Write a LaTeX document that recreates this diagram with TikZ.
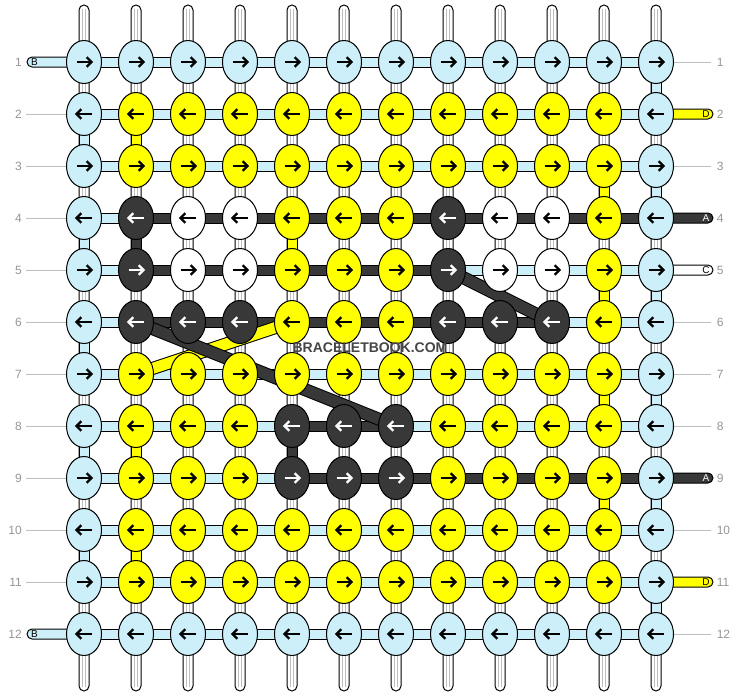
\documentclass[tikz,border=0pt]{standalone}
\usepackage{fontspec}
\setmainfont{Liberation Sans}
\usetikzlibrary{shapes.geometric}
\definecolor{cB}{RGB}{204,239,250}
\definecolor{cY}{RGB}{255,255,0}
\definecolor{cK}{RGB}{56,56,56}
\definecolor{cW}{RGB}{255,255,255}
\definecolor{aB}{RGB}{0,0,0}
\definecolor{aY}{RGB}{0,0,0}
\definecolor{aW}{RGB}{0,0,0}
\definecolor{aK}{RGB}{255,255,255}
\definecolor{lblgray}{RGB}{150,150,150}
\definecolor{linegray}{RGB}{190,190,190}
\definecolor{wmgray}{RGB}{70,70,70}
\begin{document}
\begin{tikzpicture}[x=0.75pt,y=-0.75pt,
  knot/.style={ellipse, draw=black, line width=0.75pt, minimum width=26.25pt, minimum height=32.25pt, inner sep=0pt},
  bar/.style={draw=black, line width=0.75pt},
  band/.style={draw=black, line width=0.75pt, double distance=8.25pt},
  arr/.style={line width=1.7pt, line cap=butt},
  numlbl/.style={font=\fontsize{9}{9}\selectfont, text=lblgray, inner sep=0pt},
  endlbl/.style={font=\fontsize{7.5}{7.5}\selectfont, inner sep=0pt},
  guide/.style={draw=linegray, line width=0.75pt}
]
\useasboundingbox (0,0) rectangle (740,696);
\fill[white] (0,0) rectangle (740,696);

% knot centre coordinates
\foreach \r in {1,...,12}{
  \foreach \c in {1,...,12}{
    \coordinate (p\r-\c) at ({84+52*(\c-1)},{62+52*(\r-1)});
  }
}

% vertical base strands
\foreach \c in {1,...,12}{
  \pgfmathsetmacro\xx{84+52*(\c-1)}
  \draw[bar, fill=white, rounded corners=3.75pt] (\xx-5,5) rectangle (\xx+5,691);
  \draw[linegray, line width=0.6pt] (\xx-1.7,9) -- (\xx-1.7,687) (\xx+1.7,9) -- (\xx+1.7,687);
}

% horizontal bars
\foreach \r/\cl in {
  1/{B,B,B,B,B,B,B,B,B,B,B},
  2/{B,B,B,B,B,B,B,B,B,B,B},
  3/{B,B,B,B,B,B,B,B,B,B,B},
  4/{B,K,K,K,K,K,K,K,K,K,K},
  5/{B,K,K,K,K,K,K,B,B,B,B},
  6/{B,K,K,K,K,K,K,K,K,B,B},
  7/{B,B,B,B,B,B,B,B,B,B,B},
  8/{B,B,B,B,K,K,B,B,B,B,B},
  9/{B,B,B,B,K,K,K,K,K,K,K},
  10/{B,B,B,B,B,B,B,B,B,B,B},
  11/{B,B,B,B,B,B,B,B,B,B,B},
  12/{B,B,B,B,B,B,B,B,B,B,B}}{
  \foreach \k [count=\c] in \cl {
    \pgfmathtruncatemacro\cn{\c+1}
    \draw[bar, fill=c\k] ([yshift=3.75pt]p\r-\c) rectangle ([yshift=-3.75pt]p\r-\cn);
  }
}

% vertical coloured segments
\foreach \c/\r/\k in {12/1/B,12/3/B,12/5/B,12/7/B,12/9/B,12/11/B,
  1/2/B,1/4/B,1/6/B,1/8/B,1/10/B,
  2/2/Y,11/3/Y,5/4/Y,11/5/Y,11/7/Y,2/8/Y,11/9/Y,2/10/Y,
  2/4/K,5/8/K}{
  \pgfmathtruncatemacro\rn{\r+1}
  \draw[bar, fill=c\k] ([xshift=-3.75pt]p\r-\c) rectangle ([xshift=3.75pt]p\rn-\c);
}

% edge bars left
\foreach \r in {1,12}{
  \pgfmathsetmacro\yy{62+52*(\r-1)}
  \draw[bar, fill=cB, rounded corners=3.75pt] (27,\yy-5) rectangle (90,\yy+5);
  \node[endlbl] (eL\r) at (34.5,\yy) {B};
}
% edge bars right
\foreach \r/\k/\t/\tc in {2/Y/D/black,4/K/A/white,5/W/C/black,9/K/A/white,11/Y/D/black}{
  \pgfmathsetmacro\yy{62+52*(\r-1)}
  \draw[bar, fill=c\k, rounded corners=3.75pt] (650,\yy-5) rectangle (713,\yy+5);
  \node[endlbl, text=\tc] (eR\r) at (706,\yy) {\t};
}

% guide lines
\foreach \r in {2,...,11}{
  \pgfmathsetmacro\yy{62+52*(\r-1)}
  \draw[guide] (26,\yy) -- (66,\yy);
}
\foreach \r in {1,3,6,7,8,10,12}{
  \pgfmathsetmacro\yy{62+52*(\r-1)}
  \draw[guide] (674,\yy) -- (711,\yy);
}

% diagonal strings
\draw[band, double=cY] (p6-5) -- (p7-2);
\draw[band, double=cK] (p6-2) -- (p8-7);
\draw[band, double=cK] (p5-8) -- (p6-10);

% knots with arrows
\foreach \r/\kl in {
  1/{B,B,B,B,B,B,B,B,B,B,B,B},
  2/{B,Y,Y,Y,Y,Y,Y,Y,Y,Y,Y,B},
  3/{B,Y,Y,Y,Y,Y,Y,Y,Y,Y,Y,B},
  4/{B,K,W,W,Y,Y,Y,K,W,W,Y,B},
  5/{B,K,W,W,Y,Y,Y,K,W,W,Y,B},
  6/{B,K,K,K,Y,Y,Y,K,K,K,Y,B},
  7/{B,Y,Y,Y,Y,Y,Y,Y,Y,Y,Y,B},
  8/{B,Y,Y,Y,K,K,K,Y,Y,Y,Y,B},
  9/{B,Y,Y,Y,K,K,K,Y,Y,Y,Y,B},
  10/{B,Y,Y,Y,Y,Y,Y,Y,Y,Y,Y,B},
  11/{B,Y,Y,Y,Y,Y,Y,Y,Y,Y,Y,B},
  12/{B,B,B,B,B,B,B,B,B,B,B,B}}{
  \pgfmathsetmacro\dd{ifthenelse(isodd(\r),1,-1)}
  \foreach \k [count=\c] in \kl {
    \pgfmathsetmacro\xx{84+52*(\c-1)}
    \pgfmathsetmacro\yy{62+52*(\r-1)}
    \node[knot, fill=c\k] (k\r-\c) at (p\r-\c) {};
    \draw[arr, draw=a\k] (\xx-7.5*\dd,\yy) -- (\xx+7*\dd,\yy);
    \draw[arr, draw=a\k, line join=miter] (\xx+2.6*\dd,\yy-4.8) -- (\xx+7.5*\dd,\yy) -- (\xx+2.6*\dd,\yy+4.8);
  }
}

% row numbers
\foreach \r in {1,...,12}{
  \pgfmathsetmacro\yy{62+52*(\r-1)}
  \node[numlbl, anchor=east] (nL\r) at (22,\yy) {\r};
  \node[numlbl, anchor=west] (nR\r) at (716.5,\yy) {\r};
}

% watermark
\node[font=\fontsize{10.5}{10.5}\selectfont\bfseries, text=wmgray, inner sep=0pt] (wm) at (370,348) {BRACELETBOOK.COM};
\end{tikzpicture}
\end{document}
